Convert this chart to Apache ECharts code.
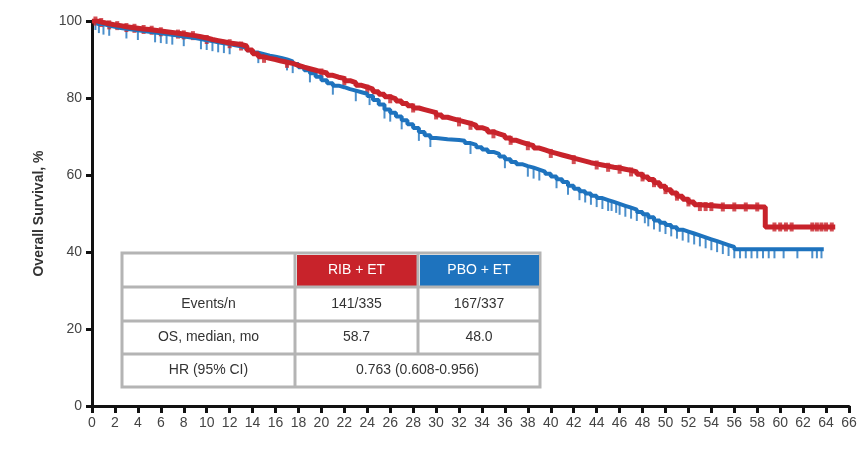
<!DOCTYPE html>
<html>
<head>
<meta charset="utf-8">
<script src="https://cdn.jsdelivr.net/npm/echarts@6/dist/echarts.min.js"></script>
<style>
  html, body { margin: 0; padding: 0; background: #fff; }
  #chart { width: 862px; height: 450px; }
</style>
</head>
<body>
<div id="chart"></div>
<script>
// Kaplan-Meier step points: [month, survival %]
const ribCurve = [
  [0, 100], [0.5, 99.6], [1, 99.3], [1.5, 99], [2, 98.8], [2.5, 98.5], [3, 98.3], [3.5, 98.1],
  [4, 97.9], [4.5, 97.8], [5, 97.6], [5.5, 97.4], [6, 97.2], [6.5, 97], [7, 96.8], [7.5, 96.6],
  [8, 96.4], [8.5, 96.2], [9, 95.9], [9.5, 95.6], [10, 95.2], [10.5, 94.9], [11, 94.6],
  [11.5, 94.3], [12, 94.1], [12.5, 93.9], [13, 93.5], [13.5, 92.5], [14, 91.5], [14.5, 90.7],
  [15, 90.3], [15.5, 90], [16, 89.6], [16.5, 89.3], [17, 89], [17.5, 88.5], [18, 88],
  [18.5, 87.6], [19, 87.2], [19.5, 86.8], [20, 86.5], [20.5, 85.9], [21, 85.4], [21.5, 85.1],
  [22, 84.5], [22.5, 84], [23, 83.3], [23.5, 82.8], [24, 82.3], [24.5, 81.6], [25, 81],
  [25.5, 80.3], [26, 79.8], [26.5, 79.2], [27, 78.6], [27.5, 78], [28, 77.4], [28.5, 77],
  [29, 76.6], [29.5, 76.2], [30, 75.6], [30.5, 75], [31, 74.6], [31.5, 74.2], [32, 73.8],
  [32.5, 73.4], [33, 72.9], [33.5, 72.3], [34, 71.8], [34.5, 71.2], [35, 70.7], [35.5, 70.2],
  [36, 69.6], [36.5, 69], [37, 68.5], [37.5, 68], [38, 67.6], [38.5, 67], [39, 66.5],
  [39.5, 66], [40, 65.6], [40.5, 65.2], [41, 64.8], [41.5, 64.4], [42, 64], [42.5, 63.6],
  [43, 63.2], [43.5, 62.9], [44, 62.6], [44.5, 62.3], [45, 62], [45.5, 61.8], [46, 61.5],
  [46.5, 61.2], [47, 60.8], [47.5, 60.2], [48, 59.5], [48.5, 58.8], [49, 58], [49.5, 57.1],
  [50, 56.2], [50.5, 55.3], [51, 54.5], [51.5, 53.7], [52, 53], [52.5, 52.3], [53, 51.8],
  [55, 51.7], [58.7, 46.5], [64.8, 46.5]
]
const pboCurve = [
  [0, 100], [0.5, 99.2], [1, 98.8], [1.5, 98.5], [2, 98.2], [2.5, 98], [3, 97.8], [3.5, 97.6],
  [4, 97.4], [4.5, 97.2], [5, 97], [5.5, 96.8], [6, 96.6], [6.5, 96.4], [7, 96.2], [7.5, 96],
  [8, 95.8], [8.5, 95.6], [9, 95.3], [9.5, 95], [10, 94.8], [10.5, 94.5], [11, 94.2],
  [11.5, 94], [12, 93.7], [12.5, 93.4], [13, 93], [13.5, 92.4], [14, 91.8], [14.5, 91.4],
  [15, 91], [15.5, 90.7], [16, 90.4], [16.5, 90], [17, 89.5], [17.5, 88.8], [18, 88],
  [18.5, 87.2], [19, 86.4], [19.5, 85.5], [20, 84.6], [20.5, 83.8], [21, 83.2], [21.5, 82.8],
  [22, 82.3], [22.5, 81.9], [23, 81.5], [23.5, 81.1], [24, 80.5], [24.5, 79.5], [25, 78.3],
  [25.5, 77], [26, 76.2], [26.5, 75.2], [27, 74.2], [27.5, 73.2], [28, 72.2], [28.5, 71.2],
  [29, 70.3], [29.5, 69.6], [30, 69.3], [31, 69.1], [32, 68.9], [32.5, 68.3], [33, 67.8],
  [33.5, 67.2], [34, 66.6], [34.5, 66], [35, 65.5], [35.5, 64.8], [36, 64.1], [36.5, 63.4],
  [37, 62.8], [37.5, 62.3], [38, 61.9], [38.5, 61.4], [39, 60.9], [39.5, 60.3], [40, 59.6],
  [40.5, 58.9], [41, 58.2], [41.5, 57.2], [42, 56.4], [42.5, 55.8], [43, 55.2], [43.5, 54.6],
  [44, 54], [44.5, 53.5], [45, 53], [45.5, 52.5], [46, 52], [46.5, 51.5], [47, 51],
  [47.5, 50.4], [48, 49.8], [48.5, 49], [49, 48.2], [49.5, 47.6], [50, 47], [50.5, 46.4],
  [51, 45.8], [51.5, 45.3], [52, 44.8], [52.5, 44.3], [53, 43.8], [53.5, 43.3], [54, 42.8],
  [54.5, 42.3], [55, 41.8], [55.5, 41.3], [56, 40.7], [63.8, 40.7]
]
// censored observations (months)
const ribCensored = [0.3, 0.8, 1.5, 2.2, 3, 3.7, 4.5, 5.2, 6, 7.5, 8, 8.8, 10, 12, 13, 15,
  17, 20, 22, 24, 26, 28, 30, 32, 33, 35, 36.5, 38, 40, 42, 44, 45, 46, 47, 48, 49, 50, 51,
  52, 53, 53.5, 54, 55, 56, 57, 58, 59.5, 60, 60.5, 61, 62.8, 63.2, 63.6, 64, 64.5]
const pboCensored = [0.3, 0.6, 1, 1.5, 3, 4, 5.5, 6, 6.5, 7, 8, 9.5, 10, 10.5, 11, 11.5, 12,
  14.5, 17, 17.5, 19, 21, 23, 24.2, 25.5, 26, 27, 28.5, 29.5, 33, 36, 38, 38.5, 39, 40.5,
  41.5, 42.5, 43, 43.5, 44, 44.5, 45, 45.3, 45.7, 46, 46.5, 47, 47.5, 48.2, 48.5, 49, 49.5,
  50, 50.5, 51, 51.5, 52, 52.5, 53, 53.5, 54, 54.5, 55, 55.5, 56, 56.5, 57, 57.5, 58, 58.5,
  59, 59.5, 60.3, 61.5, 62.8, 63.2, 63.6]

const seriesNames = ['RIB + ET', 'PBO + ET']
const rowLabels = ['Events/n', 'OS, median, mo', 'HR (95% CI)']
const ribStats = ['141/335', '58.7']
const pboStats = ['167/337', '48.0']
const hrText = '0.763 (0.608-0.956)'

const RED = '#C8232B'
const BLUE = '#1E73BE'
const FONT = 'Liberation Sans'

// survival value of a step curve at time t
function stepValue(curve, t) {
  let v = curve[0][1]
  curve.forEach(p => { if (p[0] <= t) v = p[1] })
  return v
}

// table overlay
function buildTable() {
  const left = 122, top = 253
  const colW = [173, 123, 122]
  const rowH = [34, 34, 33, 33]
  const els = []
  const border = '#b4b4b4'
  const xs = [left, left + colW[0], left + colW[0] + colW[1], left + colW[0] + colW[1] + colW[2]]
  const ys = [top]
  rowH.forEach(h => ys.push(ys[ys.length - 1] + h))
  const width = xs[3] - left, height = ys[4] - top

  els.push({ type: 'rect', shape: { x: left, y: top, width, height },
    style: { fill: '#fff', stroke: border, lineWidth: 3 } })
  // header fills
  els.push({ type: 'rect', shape: { x: xs[1] + 2, y: ys[0] + 2, width: colW[1] - 3, height: rowH[0] - 3 },
    style: { fill: RED } })
  els.push({ type: 'rect', shape: { x: xs[2] + 2, y: ys[0] + 2, width: colW[2] - 3, height: rowH[0] - 3 },
    style: { fill: BLUE } })
  // horizontal lines
  for (let i = 1; i < 4; i++) {
    els.push({ type: 'line', shape: { x1: left, y1: ys[i], x2: xs[3], y2: ys[i] },
      style: { stroke: border, lineWidth: 3 } })
  }
  // vertical lines
  els.push({ type: 'line', shape: { x1: xs[1], y1: top, x2: xs[1], y2: ys[4] },
    style: { stroke: border, lineWidth: 3 } })
  els.push({ type: 'line', shape: { x1: xs[2], y1: top, x2: xs[2], y2: ys[3] },
    style: { stroke: border, lineWidth: 3 } })

  const txt = (s, cx, cy, color) => ({
    type: 'text', x: cx, y: cy, z: 10,
    style: { text: s, fill: color || '#333', font: '14px "' + FONT + '"', align: 'center', verticalAlign: 'middle' },
  })
  const mid = i => (ys[i] + ys[i + 1]) / 2
  const cmid = i => (xs[i] + xs[i + 1]) / 2
  els.push(txt(seriesNames[0], cmid(1), mid(0), '#fff'))
  els.push(txt(seriesNames[1], cmid(2), mid(0), '#fff'))
  rowLabels.forEach((label, i) => els.push(txt(label, cmid(0), mid(i + 1))))
  ribStats.forEach((v, i) => els.push(txt(v, cmid(1), mid(i + 1))))
  pboStats.forEach((v, i) => els.push(txt(v, cmid(2), mid(i + 1))))
  els.push(txt(hrText, (xs[1] + xs[3]) / 2, mid(3)))
  return els
}

const chart = echarts.init(document.getElementById('chart'), null, { renderer: 'canvas' })

chart.setOption({
  animation: false,
  backgroundColor: '#fff',
  textStyle: { fontFamily: FONT },
  grid: { left: 92, right: 13, top: 21, bottom: 44 },
  xAxis: {
    type: 'value',
    min: 0,
    max: 66,
    interval: 2,
    axisLine: { lineStyle: { color: '#111', width: 3 } },
    axisTick: { length: 7, lineStyle: { color: '#111', width: 3 } },
    axisLabel: { color: '#444', fontSize: 14, margin: 10, fontFamily: FONT },
    splitLine: { show: false },
  },
  yAxis: {
    type: 'value',
    min: 0,
    max: 100,
    interval: 20,
    name: 'Overall Survival, %',
    nameLocation: 'middle',
    nameGap: 46,
    nameTextStyle: { color: '#333', fontSize: 14, fontWeight: 'bold', fontFamily: FONT },
    axisLine: { show: true, lineStyle: { color: '#111', width: 3 } },
    axisTick: { show: true, length: 6, lineStyle: { color: '#111', width: 3 } },
    axisLabel: { color: '#444', fontSize: 14, margin: 10, fontFamily: FONT },
    splitLine: { show: false },
  },
  series: [
    {
      name: seriesNames[1],
      type: 'line',
      step: 'end',
      showSymbol: false,
      data: pboCurve,
      lineStyle: { color: BLUE, width: 4 },
    },
    {
      name: seriesNames[1] + ' censored',
      type: 'scatter',
      symbol: 'rect',
      symbolSize: [2, 10],
      symbolOffset: [0, 4],
      data: pboCensored.map(t => [t, stepValue(pboCurve, t)]),
      itemStyle: { color: BLUE },
    },
    {
      name: seriesNames[0],
      type: 'line',
      step: 'end',
      showSymbol: false,
      data: ribCurve,
      lineStyle: { color: RED, width: 5 },
    },
    {
      name: seriesNames[0] + ' censored',
      type: 'scatter',
      symbol: 'rect',
      symbolSize: [4, 9],
      data: ribCensored.map(t => [t, stepValue(ribCurve, t)]),
      itemStyle: { color: RED },
    },
  ],
  graphic: buildTable(),
})
</script>
</body>
</html>
